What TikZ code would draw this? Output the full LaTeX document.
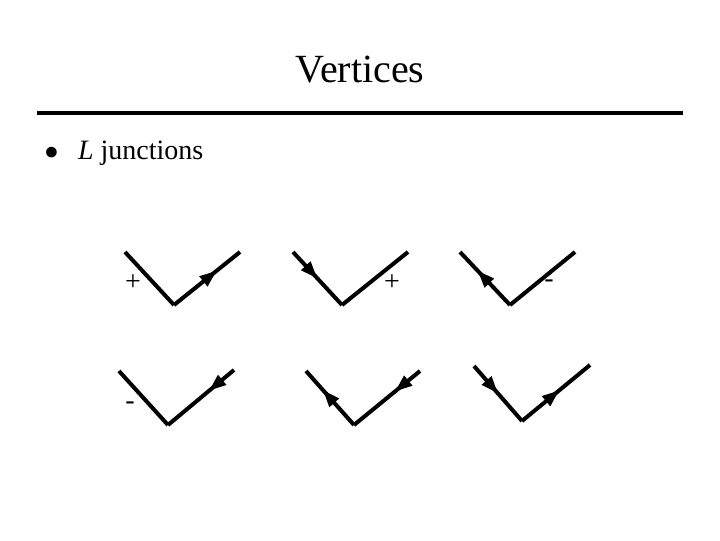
\documentclass[tikz,border=0pt]{standalone}
\usepackage{fontspec}
\setmainfont{Liberation Serif}
\usetikzlibrary{arrows.meta,decorations.markings}
\begin{document}
\begin{tikzpicture}[x=0.75pt,y=-0.75pt,
  edge/.style={line width=3pt},
  tipat/.style={postaction={decorate},decoration={markings,mark=at position #1 with {\arrow{Triangle[length=13pt,width=9pt]}}}},
  tipback/.style={postaction={decorate},decoration={markings,mark=at position #1 with {\arrowreversed{Triangle[length=13pt,width=9pt]}}}},
  sign/.style={font=\fontsize{21}{21}\selectfont}]
\useasboundingbox (0,0) rectangle (720,540);
\node (title) at (360,70) {\fontsize{30}{30}\selectfont Vertices};
\draw[line width=3pt] (37,113) -- (683,113);
\node[anchor=west] (bul) at (40,153) {\fontsize{21}{21}\selectfont $\bullet$\hspace{0.7em}\textit{L} junctions};
% V1
\coordinate (a1) at (125,252); \coordinate (v1) at (174,305); \coordinate (b1) at (240,252);
\draw[edge] (a1) -- (v1);
\draw[edge,tipat=0.65] (v1) -- (b1);
\node[sign] (s1) at (133,283) {+};
% V2
\coordinate (a2) at (293,252); \coordinate (v2) at (342,305); \coordinate (b2) at (408,252);
\draw[edge,tipat=0.5] (a2) -- (v2);
\draw[edge] (v2) -- (b2);
\node[sign] (s2) at (392,283) {+};
% V3
\coordinate (a3) at (460,252); \coordinate (v3) at (510,305); \coordinate (b3) at (575,252);
\draw[edge,tipback=0.35] (a3) -- (v3);
\draw[edge] (v3) -- (b3);
\node[sign] (s3) at (549,284) {-};
% V4
\coordinate (a4) at (119,371); \coordinate (v4) at (168,425); \coordinate (b4) at (234,370);
\draw[edge] (a4) -- (v4);
\draw[edge,tipback=0.62] (v4) -- (b4);
\node[sign] (s4) at (130,406) {-};
% V5
\coordinate (a5) at (306,371); \coordinate (v5) at (354,425); \coordinate (b5) at (420,371);
\draw[edge,tipback=0.35] (a5) -- (v5);
\draw[edge,tipback=0.62] (v5) -- (b5);
% V6
\coordinate (a6) at (474,366); \coordinate (v6) at (522,421); \coordinate (b6) at (590,365);
\draw[edge,tipat=0.5] (a6) -- (v6);
\draw[edge,tipat=0.55] (v6) -- (b6);
\end{tikzpicture}
\end{document}
